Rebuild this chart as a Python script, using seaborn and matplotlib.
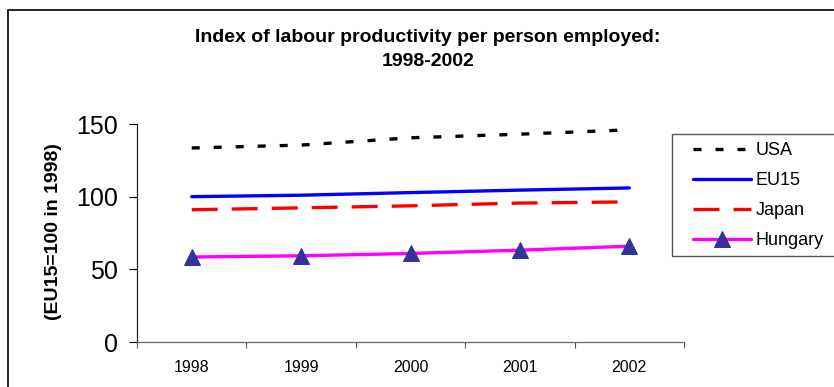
import numpy as np
import pandas as pd
import seaborn as sns
import matplotlib.pyplot as plt
from matplotlib.patches import Rectangle

sns.set_style("white")
plt.rcParams["font.family"] = ["Liberation Sans", "DejaVu Sans"]
plt.rcParams["text.color"] = "black"
plt.rcParams["axes.labelcolor"] = "black"
plt.rcParams["xtick.color"] = "black"
plt.rcParams["ytick.color"] = "black"

years = ["1998", "1999", "2000", "2001", "2002"]
usa = [133.5, 135.5, 140.5, 143, 146]
eu15 = [100, 101, 102.8, 104.5, 106]
japan = [91, 92.3, 93.7, 95.6, 96.4]
hungary = [58.5, 59.3, 60.9, 63.2, 65.9]

df = pd.DataFrame({
    "pos": np.tile(np.arange(len(years)), 4),
    "value": usa + eu15 + japan + hungary,
    "country": ["USA"] * 5 + ["EU15"] * 5 + ["Japan"] * 5 + ["Hungary"] * 5,
})

W, H = 834, 387
fig = plt.figure(figsize=(W / 100, H / 100), dpi=100)
ax = fig.add_axes([137 / W, 1 - 342 / H, (684 - 137) / W, (342 - 124) / H])

styles = {
    "USA": dict(color="black", dashes=(2.4, 4.2)),
    "EU15": dict(color="#0000ff"),
    "Japan": dict(color="#ff0000", dashes=(7.8, 4.2)),
    "Hungary": dict(color="#ff00ff", marker="^", markersize=12,
                    markerfacecolor="#333399", markeredgecolor="#333399"),
}
for name, kw in styles.items():
    sub = df[df["country"] == name]
    sns.lineplot(data=sub, x="pos", y="value", ax=ax, label=name,
                 linewidth=2.4, **kw)

ax.set_xlim(-0.5, 4.5)
ax.set_ylim(0, 150)
ax.set_yticks([0, 50, 100, 150])
ax.tick_params(axis="y", labelsize=18, length=6, width=0.8, direction="out",
               left=True, pad=8)
ax.set_xticks(np.arange(-0.5, 5, 1))
ax.set_xticklabels([])
ax.set_xticks(np.arange(len(years)), minor=True)
ax.set_xticklabels(years, minor=True, fontsize=11.5)
ax.tick_params(axis="x", which="major", length=4, width=0.8, direction="out",
               bottom=True, color="#555555")
ax.tick_params(axis="x", which="minor", length=0, pad=13)
ax.set_xlabel("")
ax.set_ylabel("(EU15=100 in 1998)", fontsize=14, fontweight="bold")
ax.yaxis.set_label_coords((62 - 137) / 547, 0.505)

for s in ["top", "right"]:
    ax.spines[s].set_visible(False)
ax.spines["left"].set_color("#222222")
ax.spines["bottom"].set_color("#666666")
for s in ["left", "bottom"]:
    ax.spines[s].set_linewidth(0.9)

leg = ax.legend(loc="upper left", bbox_to_anchor=(693 / W, 1 - 142 / H),
                bbox_transform=fig.transFigure, fontsize=13, frameon=False,
                borderpad=0, labelspacing=0.72,
                handlelength=3.2, handletextpad=0.25, borderaxespad=0)
fig.patches.append(Rectangle((672 / W, 1 - 256 / H), 200 / W, 122 / H,
                             transform=fig.transFigure, fill=False,
                             edgecolor="#555555", linewidth=1))

fig.text(428 / W, 1 - 38 / H, "Index of labour productivity per person employed:",
         ha="center", va="center", fontsize=14, fontweight="bold")
fig.text(428 / W, 1 - 62 / H, "1998-2002",
         ha="center", va="center", fontsize=14, fontweight="bold")

fig.patches.append(Rectangle((8 / W, -0.1), 1.2, 1 - 10 / H + 0.1,
                             transform=fig.transFigure, fill=False,
                             edgecolor="black", linewidth=1.2))

fig.savefig("out.png", dpi=100)
